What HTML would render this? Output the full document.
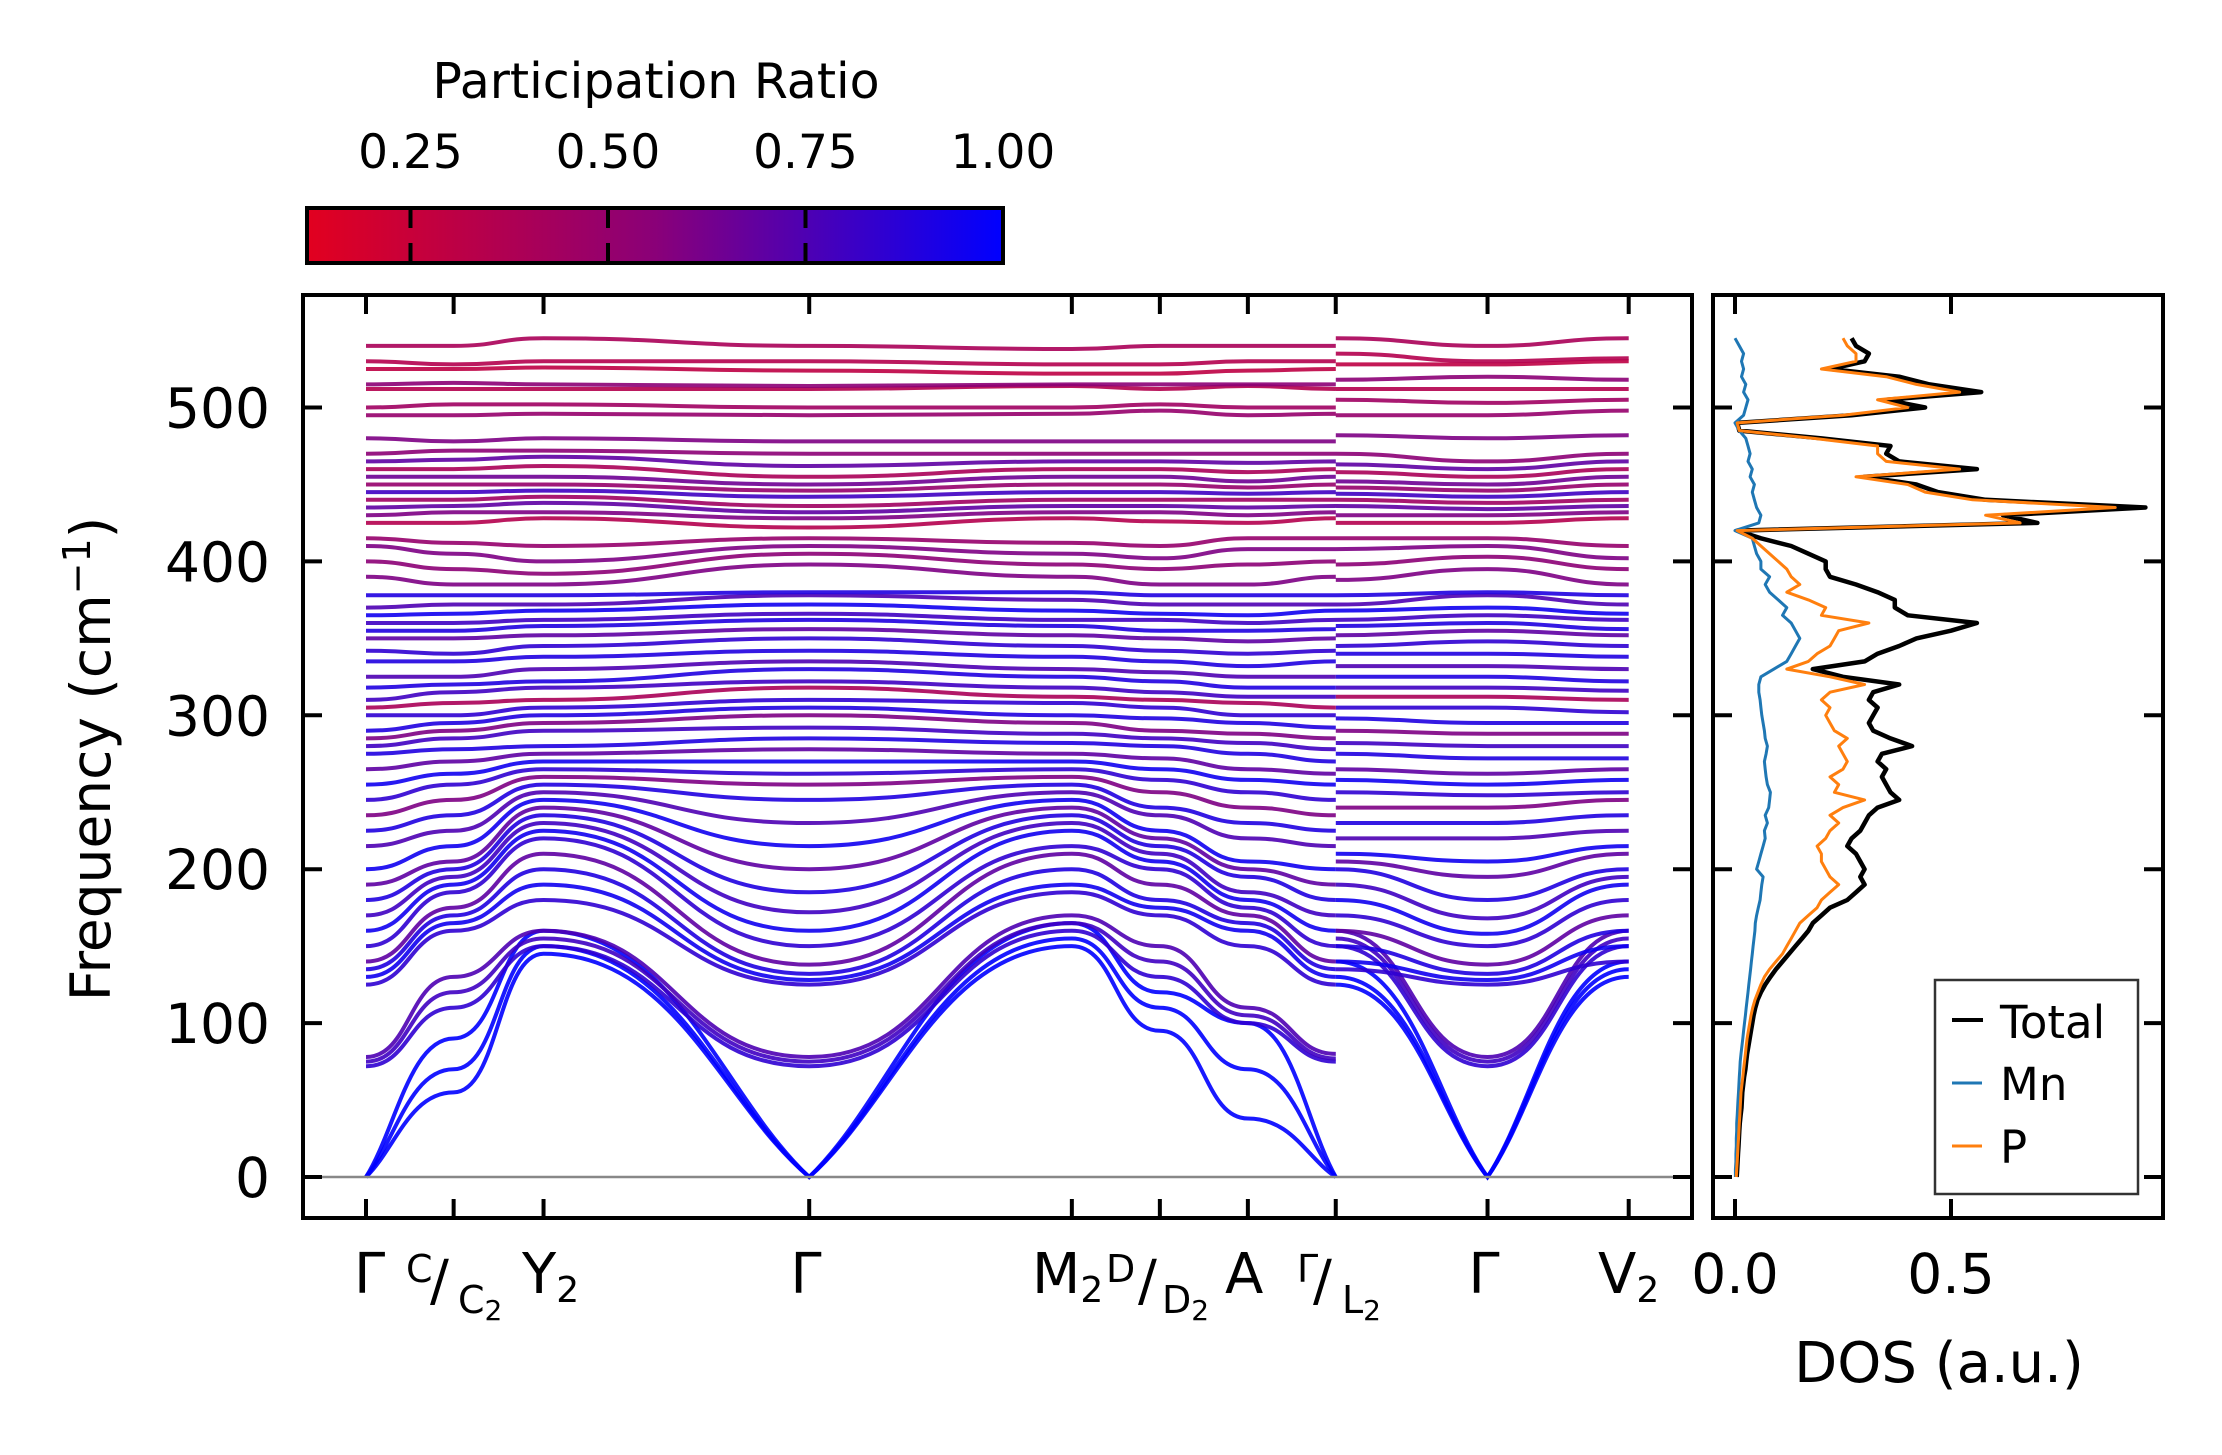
<!DOCTYPE html>
<html><head><meta charset="utf-8"><style>
html,body{margin:0;padding:0;background:#fff;}
svg{display:block;font-family:"DejaVu Sans","Liberation Sans",sans-serif;}
</style></head><body>
<svg id="chart" width="2222" height="1455" viewBox="0 0 2222 1455" xmlns="http://www.w3.org/2000/svg">
<defs>
<linearGradient id="cbgrad" x1="0" x2="1" y1="0" y2="0">
<stop offset="0" stop-color="#e2001f"/><stop offset="0.5" stop-color="#8a0078"/><stop offset="1" stop-color="#0000ff"/>
</linearGradient>
<clipPath id="mainclip"><rect x="303" y="295" width="1389" height="923"/></clipPath>
<clipPath id="dosclip"><rect x="1713" y="295" width="450" height="923"/></clipPath>
</defs>
<g>
<text x="656" y="98" font-size="49" text-anchor="middle">Participation Ratio</text>
<rect x="307" y="208" width="696" height="55" fill="url(#cbgrad)"/>
<g id="cbticks"></g>
<rect x="307" y="208" width="696" height="55" fill="none" stroke="#000" stroke-width="4"/>
</g>
<g id="bands" clip-path="url(#mainclip)"></g>
<line x1="303" y1="1177" x2="1692" y2="1177" stroke="#888" stroke-width="2.5"/>
<g id="mainaxes"></g>
<rect x="303" y="295" width="1389" height="923" fill="none" stroke="#000" stroke-width="4"/>
<text transform="translate(110,759) rotate(-90)" font-size="55" text-anchor="middle">Frequency (cm<tspan font-size="38" dy="-20">−1</tspan><tspan dy="20">)</tspan></text>
<g font-size="56">
<text x="354" y="1293">Γ</text>
<text x="406" y="1282" font-size="38">C</text>
<text x="430" y="1300">/</text>
<text x="458" y="1313" font-size="38">C<tspan font-size="28" dy="7">2</tspan></text>
<text x="522" y="1293">Y<tspan font-size="36" dy="9">2</tspan></text>
<text x="806" y="1293" text-anchor="middle">Γ</text>
<text x="1032" y="1293">M<tspan font-size="36" dy="9">2</tspan></text>
<text x="1106" y="1282" font-size="38">D</text>
<text x="1138" y="1300">/</text>
<text x="1162" y="1313" font-size="38">D<tspan font-size="28" dy="7">2</tspan></text>
<text x="1225" y="1293">A</text>
<text x="1297" y="1282" font-size="38">Γ</text>
<text x="1313" y="1300">/</text>
<text x="1342" y="1313" font-size="38">L<tspan font-size="28" dy="7">2</tspan></text>
<text x="1484" y="1293" text-anchor="middle">Γ</text>
<text x="1598" y="1293">V<tspan font-size="36" dy="9">2</tspan></text>
</g>
<g id="dos" clip-path="url(#dosclip)"></g>
<g id="dosaxes"></g>
<rect x="1713" y="295" width="450" height="923" fill="none" stroke="#000" stroke-width="4"/>
<text x="1939" y="1382" font-size="56" text-anchor="middle">DOS (a.u.)</text>
<g>
<rect x="1935" y="980" width="203" height="214" fill="#fff" stroke="#333" stroke-width="2.5"/>
<line x1="1952" y1="1020" x2="1983" y2="1020" stroke="#000" stroke-width="4"/>
<text x="2000" y="1038" font-size="45">Total</text>
<line x1="1952" y1="1083" x2="1982" y2="1083" stroke="#1f77b4" stroke-width="3"/>
<text x="2000" y="1100" font-size="45">Mn</text>
<line x1="1952" y1="1146" x2="1982" y2="1146" stroke="#ff7f0e" stroke-width="3"/>
<text x="2000" y="1163" font-size="45">P</text>
</g>
</svg>
<script>
const kLabels = ["Γ","C/C2","Y2","Γ","M2","D/D2","A","Γ|L2","Γ","V2"];
const kPos = [0, 0.0694, 0.1406, 0.3510, 0.5590, 0.6287, 0.6984, 0.7680, 0.8882, 1.0];
const bandFreqs = [
[0,55,145,0,150,95,38,0,125,0,130],
[0,70,150,0,155,110,70,0,130,0,135],
[0,90,160,0,165,120,100,0,140,0,140],
[72,110,150,72,160,130,100,75,150,72,150],
[75,120,155,75,165,140,105,77,155,75,155],
[78,130,160,78,170,150,110,80,160,78,160],
[125,160,180,125,185,170,150,125,135,125,140],
[130,165,190,128,190,175,160,130,140,128,150],
[135,170,200,132,200,180,165,135,150,132,160],
[140,175,210,138,210,190,170,140,160,138,170],
[150,185,220,150,215,200,175,150,170,150,180],
[160,190,225,160,225,205,180,160,180,158,190],
[170,195,230,172,230,210,185,170,190,168,195],
[180,200,235,185,235,215,195,180,200,180,200],
[190,205,240,200,240,220,200,190,205,195,210],
[200,215,245,215,245,225,205,200,210,205,215],
[215,225,250,230,250,235,220,215,220,220,225],
[225,235,255,245,255,240,230,225,230,230,235],
[235,245,260,255,260,250,240,235,240,240,245],
[245,255,265,262,265,258,250,245,250,248,250],
[255,262,270,270,270,265,258,255,258,255,258],
[265,270,275,278,275,272,265,262,265,262,265],
[275,278,280,285,282,280,275,270,275,272,272],
[280,285,290,292,288,285,282,278,282,280,280],
[285,290,295,300,295,290,288,285,290,288,288],
[290,295,300,305,300,298,295,292,298,295,295],
[300,300,305,310,308,305,300,300,305,305,302],
[305,308,310,318,312,310,308,305,312,312,310],
[310,315,318,322,318,315,312,312,318,318,316],
[318,320,322,330,325,322,318,318,325,325,322],
[325,325,330,335,330,328,325,325,332,332,330],
[335,335,338,342,338,335,332,335,340,340,338],
[342,340,345,350,345,342,340,342,345,348,345],
[350,350,352,356,352,350,348,350,352,355,352],
[355,355,358,362,358,355,355,356,358,360,356],
[360,360,362,366,362,362,360,362,362,365,362],
[365,366,368,372,368,366,365,368,368,370,366],
[370,372,372,378,375,372,372,372,372,378,372],
[378,378,378,380,380,378,378,378,378,380,378],
[390,385,385,398,390,385,385,390,388,395,385],
[400,395,392,405,398,395,398,400,398,403,395],
[410,405,400,410,405,402,408,408,408,410,402],
[415,412,410,415,412,410,415,415,415,415,410],
[425,425,428,422,428,426,425,428,425,425,428],
[430,432,432,428,432,432,430,432,430,430,432],
[435,436,438,432,436,436,435,436,436,434,436],
[440,440,442,436,440,440,440,440,440,438,440],
[445,445,446,442,445,445,444,445,444,442,445],
[450,450,450,446,450,450,448,450,448,446,450],
[455,455,455,450,455,455,452,455,452,450,455],
[460,460,462,455,460,460,458,460,458,455,460],
[465,466,468,462,465,465,464,465,463,460,465],
[470,472,472,470,470,470,470,470,470,465,470],
[480,478,480,478,478,478,478,478,482,480,482],
[495,495,496,495,496,498,495,496,495,495,498],
[500,502,502,500,500,502,500,500,505,503,505],
[512,512,512,512,514,512,514,512,512,512,512],
[515,516,515,514,515,515,515,515,518,520,518],
[525,525,526,524,522,522,524,525,528,528,530],
[530,528,530,530,528,528,530,530,535,530,532],
[540,540,545,540,538,540,540,540,545,540,545]
];
const bandPR = [1.0,1.0,1.0,0.85,0.8,0.75,0.85,0.95,0.9,0.7,0.85,0.95,0.8,0.9,0.7,0.95,0.75,0.9,0.6,0.85,0.95,0.7,0.9,0.8,0.6,0.9,0.85,0.4,0.8,0.9,0.75,0.9,0.85,0.7,0.9,0.8,0.95,0.75,0.9,0.6,0.55,0.6,0.5,0.35,0.6,0.7,0.45,0.8,0.5,0.65,0.4,0.7,0.55,0.6,0.5,0.45,0.35,0.55,0.3,0.35,0.4];
const cbTicks = [0.25,0.50,0.75,1.00];
const cbTickLabels = ["0.25","0.50","0.75","1.00"];
const yTicks = [0,100,200,300,400,500];
const yTickLabels = ["0","100","200","300","400","500"];
const dosTicks = [0,0.5];
const dosTickLabels = ["0.0","0.5"];
const dosFreq = [0,5,10,15,20,25,30,35,40,45,50,55,60,65,70,75,80,85,90,95,100,105,110,115,120,125,130,135,140,145,150,155,160,165,170,175,180,185,190,195,200,205,210,215,220,225,230,235,240,245,250,255,260,265,270,275,280,285,290,295,300,305,310,315,320,325,330,335,340,345,350,355,360,365,370,375,380,385,390,395,400,405,410,415,420,425,430,435,440,445,450,455,460,465,470,475,480,485,490,495,500,505,510,515,520,525,530,535,540,545];
const dosTotal = [0.004,0.005,0.006,0.007,0.008,0.009,0.01,0.011,0.013,0.015,0.016,0.017,0.019,0.021,0.024,0.026,0.028,0.031,0.034,0.037,0.04,0.043,0.047,0.052,0.06,0.07,0.082,0.095,0.11,0.125,0.14,0.155,0.17,0.18,0.2,0.22,0.26,0.28,0.3,0.29,0.3,0.29,0.28,0.26,0.27,0.29,0.3,0.31,0.33,0.38,0.36,0.35,0.34,0.35,0.33,0.34,0.41,0.36,0.32,0.31,0.32,0.33,0.31,0.32,0.38,0.25,0.18,0.3,0.33,0.38,0.42,0.5,0.56,0.4,0.37,0.37,0.33,0.28,0.22,0.21,0.21,0.17,0.13,0.06,0.005,0.7,0.62,0.95,0.58,0.47,0.42,0.3,0.56,0.38,0.35,0.36,0.2,0.01,0.005,0.27,0.44,0.35,0.57,0.45,0.38,0.22,0.3,0.31,0.28,0.27];
const dosMn = [0.001,0.001,0.002,0.002,0.003,0.003,0.004,0.004,0.005,0.006,0.007,0.008,0.009,0.01,0.011,0.012,0.014,0.016,0.018,0.02,0.022,0.024,0.026,0.028,0.03,0.032,0.034,0.036,0.038,0.04,0.042,0.044,0.046,0.047,0.05,0.054,0.058,0.06,0.062,0.065,0.05,0.055,0.06,0.065,0.07,0.068,0.075,0.07,0.078,0.08,0.082,0.075,0.072,0.07,0.068,0.072,0.075,0.07,0.068,0.065,0.062,0.06,0.058,0.055,0.055,0.06,0.09,0.12,0.13,0.14,0.15,0.14,0.13,0.11,0.12,0.1,0.08,0.07,0.08,0.06,0.06,0.05,0.045,0.04,0.0,0.055,0.06,0.05,0.045,0.04,0.045,0.035,0.04,0.03,0.035,0.03,0.025,0.01,0.0,0.02,0.025,0.03,0.02,0.025,0.015,0.02,0.015,0.02,0.01,0.0];
const dosP = [0.003,0.004,0.005,0.006,0.007,0.008,0.009,0.01,0.011,0.012,0.013,0.014,0.016,0.018,0.02,0.022,0.024,0.026,0.028,0.031,0.034,0.037,0.041,0.046,0.053,0.06,0.068,0.08,0.095,0.11,0.12,0.13,0.14,0.15,0.17,0.19,0.2,0.22,0.24,0.22,0.21,0.2,0.2,0.19,0.21,0.22,0.24,0.22,0.25,0.3,0.23,0.24,0.22,0.25,0.26,0.25,0.24,0.26,0.23,0.22,0.21,0.22,0.2,0.22,0.3,0.22,0.12,0.17,0.19,0.22,0.23,0.24,0.31,0.2,0.21,0.17,0.12,0.15,0.13,0.12,0.1,0.08,0.06,0.04,0.005,0.66,0.58,0.88,0.55,0.44,0.4,0.28,0.52,0.35,0.33,0.33,0.18,0.01,0.005,0.25,0.4,0.33,0.52,0.42,0.35,0.2,0.28,0.28,0.26,0.25];

const NS = "http://www.w3.org/2000/svg";
const kX0 = 366, kX1 = 1628.7;
function xK(f){ return kX0 + f*(kX1-kX0); }
function yF(v){ return 1177 - v*1.539; }
function xD(d){ return 1735 + d*432; }
function xCB(v){ return 307 + (v-0.119)/(1.0-0.119)*696; }
function prColor(pr){
  const t = Math.max(0,Math.min(1,(pr-0.119)/(1-0.119)));
  let r,b;
  if(t<0.5){ const u=t/0.5; r=226+(138-226)*u; b=31+(120-31)*u; }
  else { const u=(t-0.5)/0.5; r=138*(1-u); b=120+(255-120)*u; }
  return `rgb(${Math.round(r)},0,${Math.round(b)})`;
}
function mk(tag, attrs, parent){
  const el = document.createElementNS(NS, tag);
  for (const k in attrs) el.setAttribute(k, attrs[k]);
  parent.appendChild(el);
  return el;
}

const cbG = document.getElementById('cbticks');
cbTicks.forEach((v,i)=>{
  const x = xCB(v);
  if (v < 0.999) {
    const t1 = mk('line',{x1:x,y1:208,x2:x,y2:228,stroke:'#000','stroke-width':4},cbG);
    
    
    const t2 = mk('line',{x1:x,y1:243,x2:x,y2:263,stroke:'#000','stroke-width':4},cbG);
    
    
  }
  const lb = mk('text',{x:x,y:168,'font-size':47,'text-anchor':'middle'},cbG);
  lb.textContent = cbTickLabels[i];
  
  
});

const bandsG = document.getElementById('bands');
const nodeIdx = [0,1,2,3,4,5,6,7,7,8,9];
bandFreqs.forEach((vals,bi)=>{
  let d = '';
  const segs = [[0,7],[8,10]];
  segs.forEach(([a,b])=>{
    d += `M${xK(kPos[nodeIdx[a]]).toFixed(1)},${yF(vals[a]).toFixed(1)}`;
    for (let i=a;i<b;i++){
      const x0=xK(kPos[nodeIdx[i]]), x1=xK(kPos[nodeIdx[i+1]]);
      const y0=yF(vals[i]), y1=yF(vals[i+1]);
      const dx=(x1-x0)/2;
      let c1x=x0+dx, c1y=y0, c2x=x1-dx, c2y=y1;
      if (vals[i]===0){ c1x=x0+(x1-x0)/3; c1y=y0+(y1-y0)/3; }
      if (vals[i+1]===0){ c2x=x1-(x1-x0)/3; c2y=y1-(y1-y0)/3; }
      d += `C${c1x.toFixed(1)},${c1y.toFixed(1)} ${c2x.toFixed(1)},${c2y.toFixed(1)} ${x1.toFixed(1)},${y1.toFixed(1)}`;
    }
  });
  const p = mk('path',{d:d,fill:'none',stroke:prColor(bandPR[bi]),'stroke-width':4,'stroke-opacity':0.9},bandsG);
  
  
});

const ma = document.getElementById('mainaxes');
kPos.forEach(f=>{
  const x=xK(f);
  const t1=mk('line',{x1:x,y1:1218,x2:x,y2:1199,stroke:'#000','stroke-width':4},ma);
  
  
  const t2=mk('line',{x1:x,y1:295,x2:x,y2:314,stroke:'#000','stroke-width':4},ma);
  
  
});
yTicks.forEach((v,i)=>{
  const y=yF(v);
  const t1=mk('line',{x1:303,y1:y,x2:322,y2:y,stroke:'#000','stroke-width':4},ma);
  
  
  const t2=mk('line',{x1:1692,y1:y,x2:1673,y2:y,stroke:'#000','stroke-width':4},ma);
  
  
  const lb=mk('text',{x:270,y:y+20,'font-size':55,'text-anchor':'end'},ma);
  lb.textContent=yTickLabels[i];
  
  
});

const dosG = document.getElementById('dos');
function dosPath(arr){
  return arr.map((v,i)=>(i?'L':'M')+xD(v).toFixed(1)+','+yF(dosFreq[i]).toFixed(1)).join('');
}
const series = [[dosTotal,'#000',4.5,'dos-total-line'],[dosMn,'#1f77b4',3,'dos-mn-line'],[dosP,'#ff7f0e',3,'dos-p-line']];
series.forEach(s=>{
  const p=mk('path',{d:dosPath(s[0]),fill:'none',stroke:s[1],'stroke-width':s[2],'stroke-linejoin':'round'},dosG);
  
  
});
const da = document.getElementById('dosaxes');
dosTicks.forEach((v,i)=>{
  const x=xD(v);
  const t1=mk('line',{x1:x,y1:1218,x2:x,y2:1199,stroke:'#000','stroke-width':4},da);
  
  
  const t2=mk('line',{x1:x,y1:295,x2:x,y2:314,stroke:'#000','stroke-width':4},da);
  
  
  const lb=mk('text',{x:x,y:1293,'font-size':55,'text-anchor':'middle'},da);
  lb.textContent=dosTickLabels[i];
  
  
});
yTicks.forEach(v=>{
  const y=yF(v);
  const t1=mk('line',{x1:1713,y1:y,x2:1732,y2:y,stroke:'#000','stroke-width':4},da);
  
  
  const t2=mk('line',{x1:2163,y1:y,x2:2144,y2:y,stroke:'#000','stroke-width':4},da);
  
  
});
</script>
</body></html>
